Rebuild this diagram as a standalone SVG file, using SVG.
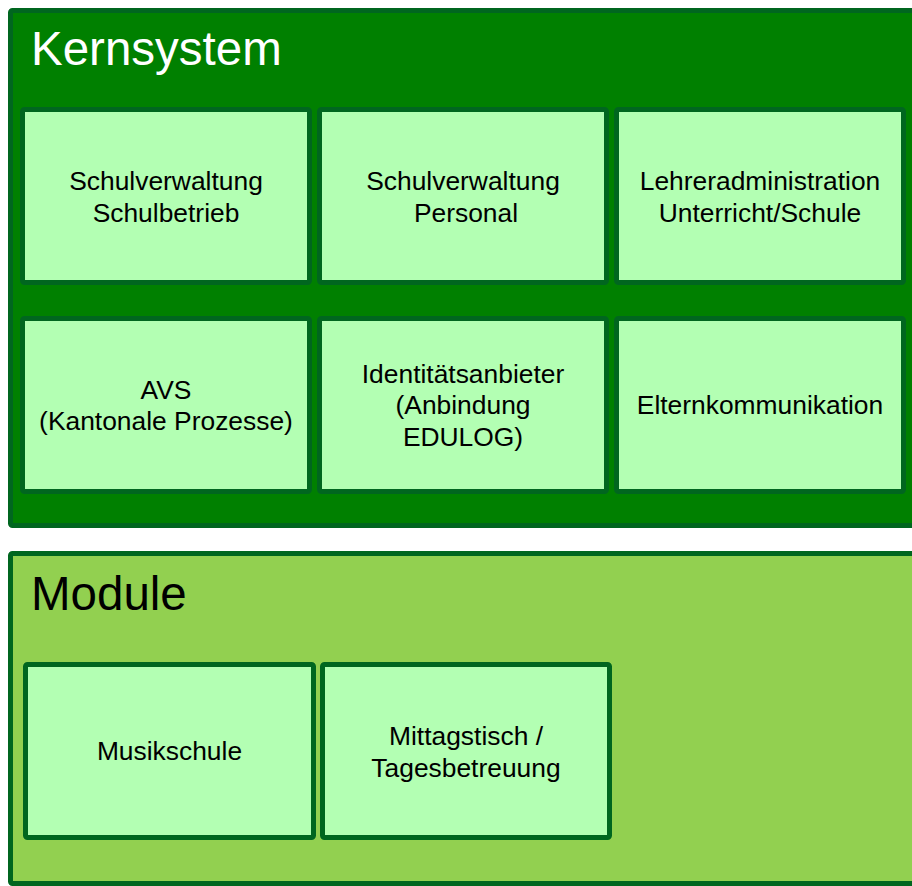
<svg xmlns="http://www.w3.org/2000/svg" width="912" height="886" viewBox="0 0 912 886">
<style>
.grp{stroke:#00661f;stroke-width:5}
.box{fill:#b3ffb3;stroke:#00661f;stroke-width:5}
.t{font-family:"Liberation Sans",Arial,sans-serif;font-size:26.4px;fill:#000;text-anchor:middle}
.h{font-family:"Liberation Sans",Arial,sans-serif;font-size:47.5px}
</style>
<rect width="912" height="886" fill="#ffffff"/>
<g id="kernsystem">
<rect class="grp" x="10.5" y="10.5" width="912" height="515" rx="2" fill="#008000"/>
<text class="h" x="31" y="65" fill="#ffffff">Kernsystem</text>
</g>
<g id="module">
<rect class="grp" x="10.5" y="553.5" width="912" height="330" rx="2" fill="#92d050"/>
<text class="h" x="31" y="610" fill="#000000">Module</text>
</g>
<g id="schulbetrieb">
<rect class="box" x="22.5" y="109.5" width="287" height="173" rx="2"/>
<text class="t" x="166" y="190">Schulverwaltung</text>
<text class="t" x="166" y="221.5">Schulbetrieb</text>
</g>
<g id="personal">
<rect class="box" x="319.5" y="109.5" width="287" height="173" rx="2"/>
<text class="t" x="463" y="190">Schulverwaltung</text>
<text class="t" x="466" y="221.5">Personal</text>
</g>
<g id="lehreradmin">
<rect class="box" x="616.5" y="109.5" width="287" height="173" rx="2"/>
<text class="t" x="760" y="190">Lehreradministration</text>
<text class="t" x="760" y="221.5">Unterricht/Schule</text>
</g>
<g id="avs">
<rect class="box" x="22.5" y="318.5" width="287" height="173" rx="2"/>
<text class="t" x="166" y="398.5">AVS</text>
<text class="t" x="166" y="430">(Kantonale Prozesse)</text>
</g>
<g id="identitaet">
<rect class="box" x="319.5" y="318.5" width="287" height="173" rx="2"/>
<text class="t" x="463" y="382.5">Identitätsanbieter</text>
<text class="t" x="463" y="414">(Anbindung</text>
<text class="t" x="463" y="445.5">EDULOG)</text>
</g>
<g id="eltern">
<rect class="box" x="616.5" y="318.5" width="287" height="173" rx="2"/>
<text class="t" x="760" y="414">Elternkommunikation</text>
</g>
<g id="musikschule">
<rect class="box" x="25.5" y="664.5" width="288" height="173" rx="2"/>
<text class="t" x="169.5" y="760">Musikschule</text>
</g>
<g id="mittagstisch">
<rect class="box" x="322.5" y="664.5" width="287" height="173" rx="2"/>
<text class="t" x="466" y="745">Mittagstisch /</text>
<text class="t" x="466" y="776.5">Tagesbetreuung</text>
</g>
<g id="connectors"/>
</svg>
